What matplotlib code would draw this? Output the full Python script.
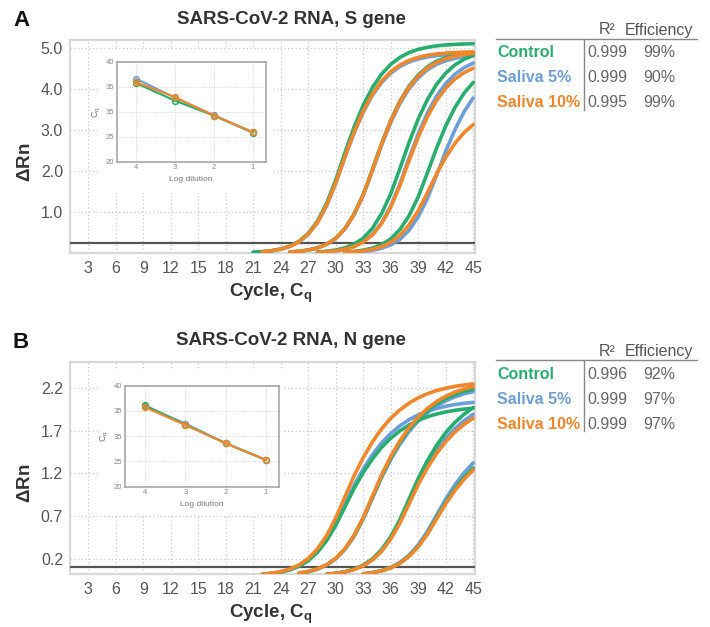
import matplotlib
matplotlib.use('Agg')
import matplotlib.pyplot as plt
from matplotlib.patches import Rectangle
from matplotlib.lines import Line2D

plt.rcParams['font.family'] = ['Liberation Sans', 'DejaVu Sans']
plt.rcParams['mathtext.fontset'] = 'custom'
plt.rcParams['mathtext.rm'] = 'Liberation Sans'
plt.rcParams['mathtext.bf'] = 'Liberation Sans:bold'
plt.rcParams['mathtext.it'] = 'Liberation Sans:italic'

GREEN = '#27AE6E'
BLUE = '#6C9FDA'
ORANGE = '#F2862A'

# ---------------- data ----------------
series_names = ['Control', 'Saliva 5%', 'Saliva 10%']
cycle_ticks = [3, 6, 9, 12, 15, 18, 21, 24, 27, 30, 33, 36, 39, 42, 45]
s_yticks = [1.0, 2.0, 3.0, 4.0, 5.0]
n_yticks = [0.2, 0.7, 1.2, 1.7, 2.2]
s_threshold = 0.24
n_threshold = 0.106

s_r2 = ['0.999', '0.999', '0.995']
s_eff = ['99%', '90%', '99%']
n_r2 = ['0.996', '0.999', '0.999']
n_eff = ['92%', '97%', '97%']

log_dilution = [4, 3, 2, 1]
inset_yticks = [20, 25, 30, 35, 40]
inset_yticklabels = ['20', '25', '35', '35', '40']
s_cq_control = [35.7, 32.2, 29.2, 25.8]
s_cq_saliva5 = [36.6, 32.8, 29.3, 25.9]
s_cq_saliva10 = [35.9, 32.9, 29.2, 25.9]
n_cq_control = [36.1, 32.3, 28.6, 25.3]
n_cq_saliva5 = [35.9, 32.5, 28.6, 25.3]
n_cq_saliva10 = [35.7, 32.2, 28.6, 25.3]

# S gene amplification curves (delta Rn per cycle); first cycle of each curve
s_control_start = [21, 25, 28, 31]
s_control_1 = [0.019, 0.033, 0.057, 0.098, 0.168, 0.286, 0.478, 0.777, 1.211, 1.782, 2.444, 3.069, 3.607,
               4.037, 4.365, 4.604, 4.775, 4.893, 4.971, 5.022, 5.057, 5.079, 5.093, 5.103, 5.109]
s_control_2 = [0.024, 0.042, 0.072, 0.125, 0.213, 0.358, 0.596, 0.948, 1.430, 2.037, 2.671, 3.237, 3.708,
               4.074, 4.346, 4.544, 4.683, 4.770, 4.831, 4.873, 4.901]
s_control_3 = [0.025, 0.043, 0.073, 0.126, 0.215, 0.362, 0.603, 0.958, 1.444, 2.058, 2.698, 3.270, 3.745,
               4.115, 4.390, 4.590, 4.730, 4.819]
s_control_4 = [0.023, 0.040, 0.069, 0.119, 0.204, 0.343, 0.571, 0.908, 1.369, 1.951, 2.557, 3.100, 3.550,
               3.901, 4.162]
s_saliva5_start = [21, 25, 28, 32]
s_saliva5_1 = [0.018, 0.031, 0.054, 0.094, 0.161, 0.273, 0.456, 0.740, 1.154, 1.698, 2.329, 2.926, 3.438,
               3.848, 4.160, 4.389, 4.552, 4.663, 4.738, 4.787, 4.819, 4.840, 4.854, 4.864, 4.869]
s_saliva5_2 = [0.024, 0.041, 0.071, 0.123, 0.209, 0.353, 0.587, 0.933, 1.406, 2.004, 2.627, 3.185, 3.648,
               4.008, 4.276, 4.471, 4.607, 4.693, 4.753, 4.795, 4.821]
s_saliva5_3 = [0.018, 0.031, 0.054, 0.093, 0.160, 0.271, 0.453, 0.736, 1.147, 1.688, 2.315, 2.908, 3.417,
               3.824, 4.135, 4.362, 4.524, 4.635]
s_saliva5_4 = [0.023, 0.039, 0.067, 0.116, 0.198, 0.333, 0.554, 0.881, 1.328, 1.893, 2.482, 3.008, 3.445,
               3.786]
s_saliva10_start = [22, 25, 28, 31]
s_saliva10_1 = [0.031, 0.055, 0.094, 0.162, 0.275, 0.460, 0.746, 1.164, 1.712, 2.348, 2.950, 3.466, 3.879,
                4.194, 4.425, 4.589, 4.702, 4.777, 4.826, 4.859, 4.880, 4.894, 4.904, 4.909]
s_saliva10_2 = [0.024, 0.042, 0.072, 0.124, 0.212, 0.356, 0.593, 0.943, 1.421, 2.025, 2.654, 3.218, 3.685,
                4.049, 4.320, 4.517, 4.654, 4.741, 4.802, 4.844, 4.871]
s_saliva10_3 = [0.017, 0.030, 0.052, 0.091, 0.155, 0.264, 0.441, 0.716, 1.116, 1.643, 2.253, 2.830, 3.325,
                3.722, 4.024, 4.245, 4.402, 4.510]
s_saliva10_4 = [0.017, 0.030, 0.052, 0.090, 0.154, 0.258, 0.430, 0.684, 1.031, 1.469, 1.926, 2.335, 2.674,
                2.938, 3.134]

# N gene amplification curves
n_control_start = [22, 26, 29, 33]
n_control_1 = [0.016, 0.026, 0.042, 0.069, 0.111, 0.176, 0.274, 0.410, 0.590, 0.806, 1.022, 1.210, 1.370,
               1.504, 1.612, 1.698, 1.768, 1.822, 1.864, 1.896, 1.920, 1.940, 1.954, 1.964]
n_control_2 = [0.030, 0.048, 0.078, 0.126, 0.201, 0.312, 0.467, 0.673, 0.919, 1.165, 1.379, 1.562, 1.715,
               1.838, 1.936, 2.016, 2.077, 2.125, 2.161, 2.189]
n_control_3 = [0.018, 0.029, 0.047, 0.077, 0.123, 0.196, 0.306, 0.457, 0.658, 0.899, 1.140, 1.349, 1.528,
               1.677, 1.797, 1.893, 1.971]
n_control_4 = [0.022, 0.036, 0.058, 0.093, 0.148, 0.230, 0.344, 0.496, 0.677, 0.858, 1.016, 1.151, 1.263]
n_saliva5_start = [22, 26, 29, 33]
n_saliva5_1 = [0.016, 0.027, 0.044, 0.071, 0.114, 0.182, 0.284, 0.424, 0.611, 0.834, 1.058, 1.252, 1.418,
               1.557, 1.668, 1.757, 1.830, 1.886, 1.929, 1.962, 1.987, 2.008, 2.022, 2.033]
n_saliva5_2 = [0.029, 0.048, 0.077, 0.124, 0.198, 0.308, 0.461, 0.664, 0.907, 1.150, 1.361, 1.541, 1.692,
               1.814, 1.910, 1.989, 2.050, 2.097, 2.133, 2.160]
n_saliva5_3 = [0.017, 0.028, 0.045, 0.074, 0.118, 0.188, 0.293, 0.439, 0.631, 0.862, 1.094, 1.295, 1.466,
               1.609, 1.725, 1.817, 1.892]
n_saliva5_4 = [0.023, 0.037, 0.061, 0.097, 0.155, 0.241, 0.361, 0.519, 0.709, 0.899, 1.065, 1.206, 1.324]
n_saliva10_start = [22, 26, 29, 33]
n_saliva10_1 = [0.018, 0.030, 0.049, 0.079, 0.127, 0.202, 0.314, 0.469, 0.676, 0.923, 1.170, 1.385, 1.569,
                1.722, 1.846, 1.944, 2.024, 2.086, 2.134, 2.171, 2.198, 2.221, 2.237, 2.249]
n_saliva10_2 = [0.030, 0.049, 0.079, 0.128, 0.203, 0.316, 0.474, 0.681, 0.931, 1.180, 1.398, 1.582, 1.737,
                1.862, 1.961, 2.042, 2.104, 2.153, 2.190, 2.218]
n_saliva10_3 = [0.017, 0.027, 0.044, 0.072, 0.116, 0.184, 0.286, 0.428, 0.617, 0.842, 1.068, 1.264, 1.432,
                1.572, 1.685, 1.774, 1.848]
n_saliva10_4 = [0.021, 0.035, 0.057, 0.091, 0.145, 0.226, 0.338, 0.487, 0.665, 0.843, 0.998, 1.130, 1.241]

# ---------------- figure ----------------
W, H = 710, 627
fig = plt.figure(figsize=(W / 100, H / 100), dpi=100)


def fx(px):
    return px / W


def fy(py):
    return 1 - py / H


def panel(top, bottom, ylim, yticks, ytickfmt, threshold, curve_sets, inset_box, inset_data,
          white_box, letter, title, table):
    ax = fig.add_axes([fx(70), fy(bottom), fx(475) - fx(70), fy(top) - fy(bottom)])
    ax.set_xlim(1.0, 45.2)
    ax.set_ylim(*ylim)
    ax.set_xticks(cycle_ticks)
    ax.set_xticklabels([str(c) for c in cycle_ticks])
    ax.set_yticks(yticks)
    ax.set_yticklabels([ytickfmt.format(v) for v in yticks])
    ax.tick_params(length=0, labelsize=11.5, labelcolor='#555555')
    ax.tick_params(axis='x', pad=6)
    ax.tick_params(axis='y', pad=5)
    ax.set_axisbelow(True)
    ax.grid(True, color='#c8c8c8', linestyle=(0, (1, 2)), linewidth=0.9)
    for sp in ax.spines.values():
        sp.set_color('#d8d8d8')
        sp.set_linewidth(1.6)
    # white area behind inset
    ax.add_patch(Rectangle((fx(white_box[0]), fy(white_box[3])), fx(white_box[2]) - fx(white_box[0]),
                           fy(white_box[1]) - fy(white_box[3]), transform=fig.transFigure,
                           facecolor='white', edgecolor='none', zorder=1))
    ax.axhline(threshold, color='#555555', linewidth=1.6, zorder=3)
    for color, starts, curves in curve_sets:
        for st, vals in zip(starts, curves):
            xs = list(range(st, st + len(vals)))
            ax.plot(xs, vals, color=color, linewidth=2.6, solid_capstyle='round',
                    solid_joinstyle='round', zorder=4)

    # inset
    l, t, r, b = inset_box
    ia = fig.add_axes([fx(l), fy(b), fx(r) - fx(l), fy(t) - fy(b)], zorder=5)
    ia.set_xlim(4.5, 0.67)
    ia.set_ylim(20, 40)
    ia.set_xticks(log_dilution)
    ia.set_xticklabels([str(v) for v in log_dilution])
    ia.set_yticks(inset_yticks)
    ia.set_yticklabels(inset_yticklabels)
    ia.tick_params(length=0, labelsize=5.5, labelcolor='#888888', pad=2)
    ia.set_axisbelow(True)
    ia.grid(True, color='#cccccc', linestyle=(0, (1, 1.5)), linewidth=0.6)
    for sp in ia.spines.values():
        sp.set_color('#a0a0a0')
        sp.set_linewidth(1.1)
    for color, vals in inset_data:
        ia.plot(log_dilution, vals, color=color, linewidth=1.5, marker='o', markersize=4.2,
                markerfacecolor='none', markeredgewidth=1.1)
    ia.set_xlabel('Log dilution', fontsize=6, color='#777777', labelpad=3)
    ia.set_ylabel(r'C$_\mathregular{q}$', fontsize=6.5, color='#777777', labelpad=2)

    # labels
    fig.text(fx(21), fy(top - 19), letter, fontsize=16, fontweight='bold', ha='center', va='center',
             color='#111111')
    fig.text(fx(291), fy(top - 21), title, fontsize=13.5, fontweight='bold', ha='center', va='center',
             color='#333333')
    fig.text(fx(26), fy((top + bottom) / 2 + 16), r'$\mathbf{\Delta}$Rn', fontsize=13.5, fontweight='bold',
             rotation=90, ha='center', va='center', color='#333333')
    fig.text(fx(271), fy(bottom + 40), r'Cycle, C$_\mathbf{q}$', fontsize=13.5, fontweight='bold',
             ha='center', va='center', color='#333333')

    # table
    r2, eff = table
    hy = top - 10
    ly = top - 1.5
    fig.text(fx(599), fy(hy), 'R²', fontsize=11.5, color='#555555', ha='left', va='center')
    fig.text(fx(625), fy(hy), 'Efficiency', fontsize=11.5, color='#555555', ha='left', va='center')
    fig.add_artist(Line2D([fx(496), fx(697)], [fy(ly), fy(ly)], color='#888888', linewidth=1.0))
    fig.add_artist(Line2D([fx(584.3), fx(584.3)], [fy(ly), fy(ly + 71)], color='#888888', linewidth=1.0))
    for i, (name, color) in enumerate(zip(series_names, [GREEN, BLUE, ORANGE])):
        yy = ly + 14 + 25 * i
        fig.text(fx(497), fy(yy), name, fontsize=11.5, fontweight='bold', color=color, ha='left', va='center')
        fig.text(fx(587), fy(yy), r2[i], fontsize=11.5, color='#666666', ha='left', va='center')
        fig.text(fx(643), fy(yy), eff[i], fontsize=11.5, color='#666666', ha='left', va='center')
    return ax


panel(40, 253, (0.0, 5.2), s_yticks, '{:.1f}', s_threshold,
      [(BLUE, s_saliva5_start, [s_saliva5_1, s_saliva5_2, s_saliva5_3, s_saliva5_4]),
       (GREEN, s_control_start, [s_control_1, s_control_2, s_control_3, s_control_4]),
       (ORANGE, s_saliva10_start, [s_saliva10_1, s_saliva10_2, s_saliva10_3, s_saliva10_4])],
      (116.7, 61.7, 265.7, 161.7),
      [(BLUE, s_cq_saliva5), (GREEN, s_cq_control), (ORANGE, s_cq_saliva10)],
      (100, 50, 272, 193), 'A', 'SARS-CoV-2 RNA, S gene', (s_r2, s_eff))

panel(361.7, 574, (0.02, 2.51), n_yticks, '{:.1f}', n_threshold,
      [(BLUE, n_saliva5_start, [n_saliva5_1, n_saliva5_2, n_saliva5_3, n_saliva5_4]),
       (GREEN, n_control_start, [n_control_1, n_control_2, n_control_3, n_control_4]),
       (ORANGE, n_saliva10_start, [n_saliva10_1, n_saliva10_2, n_saliva10_3, n_saliva10_4])],
      (125, 385.7, 279.3, 486.7),
      [(BLUE, n_cq_saliva5), (GREEN, n_cq_control), (ORANGE, n_cq_saliva10)],
      (100, 371, 284, 515), 'B', 'SARS-CoV-2 RNA, N gene', (n_r2, n_eff))

fig.savefig('out.png', dpi=100, facecolor='white')
